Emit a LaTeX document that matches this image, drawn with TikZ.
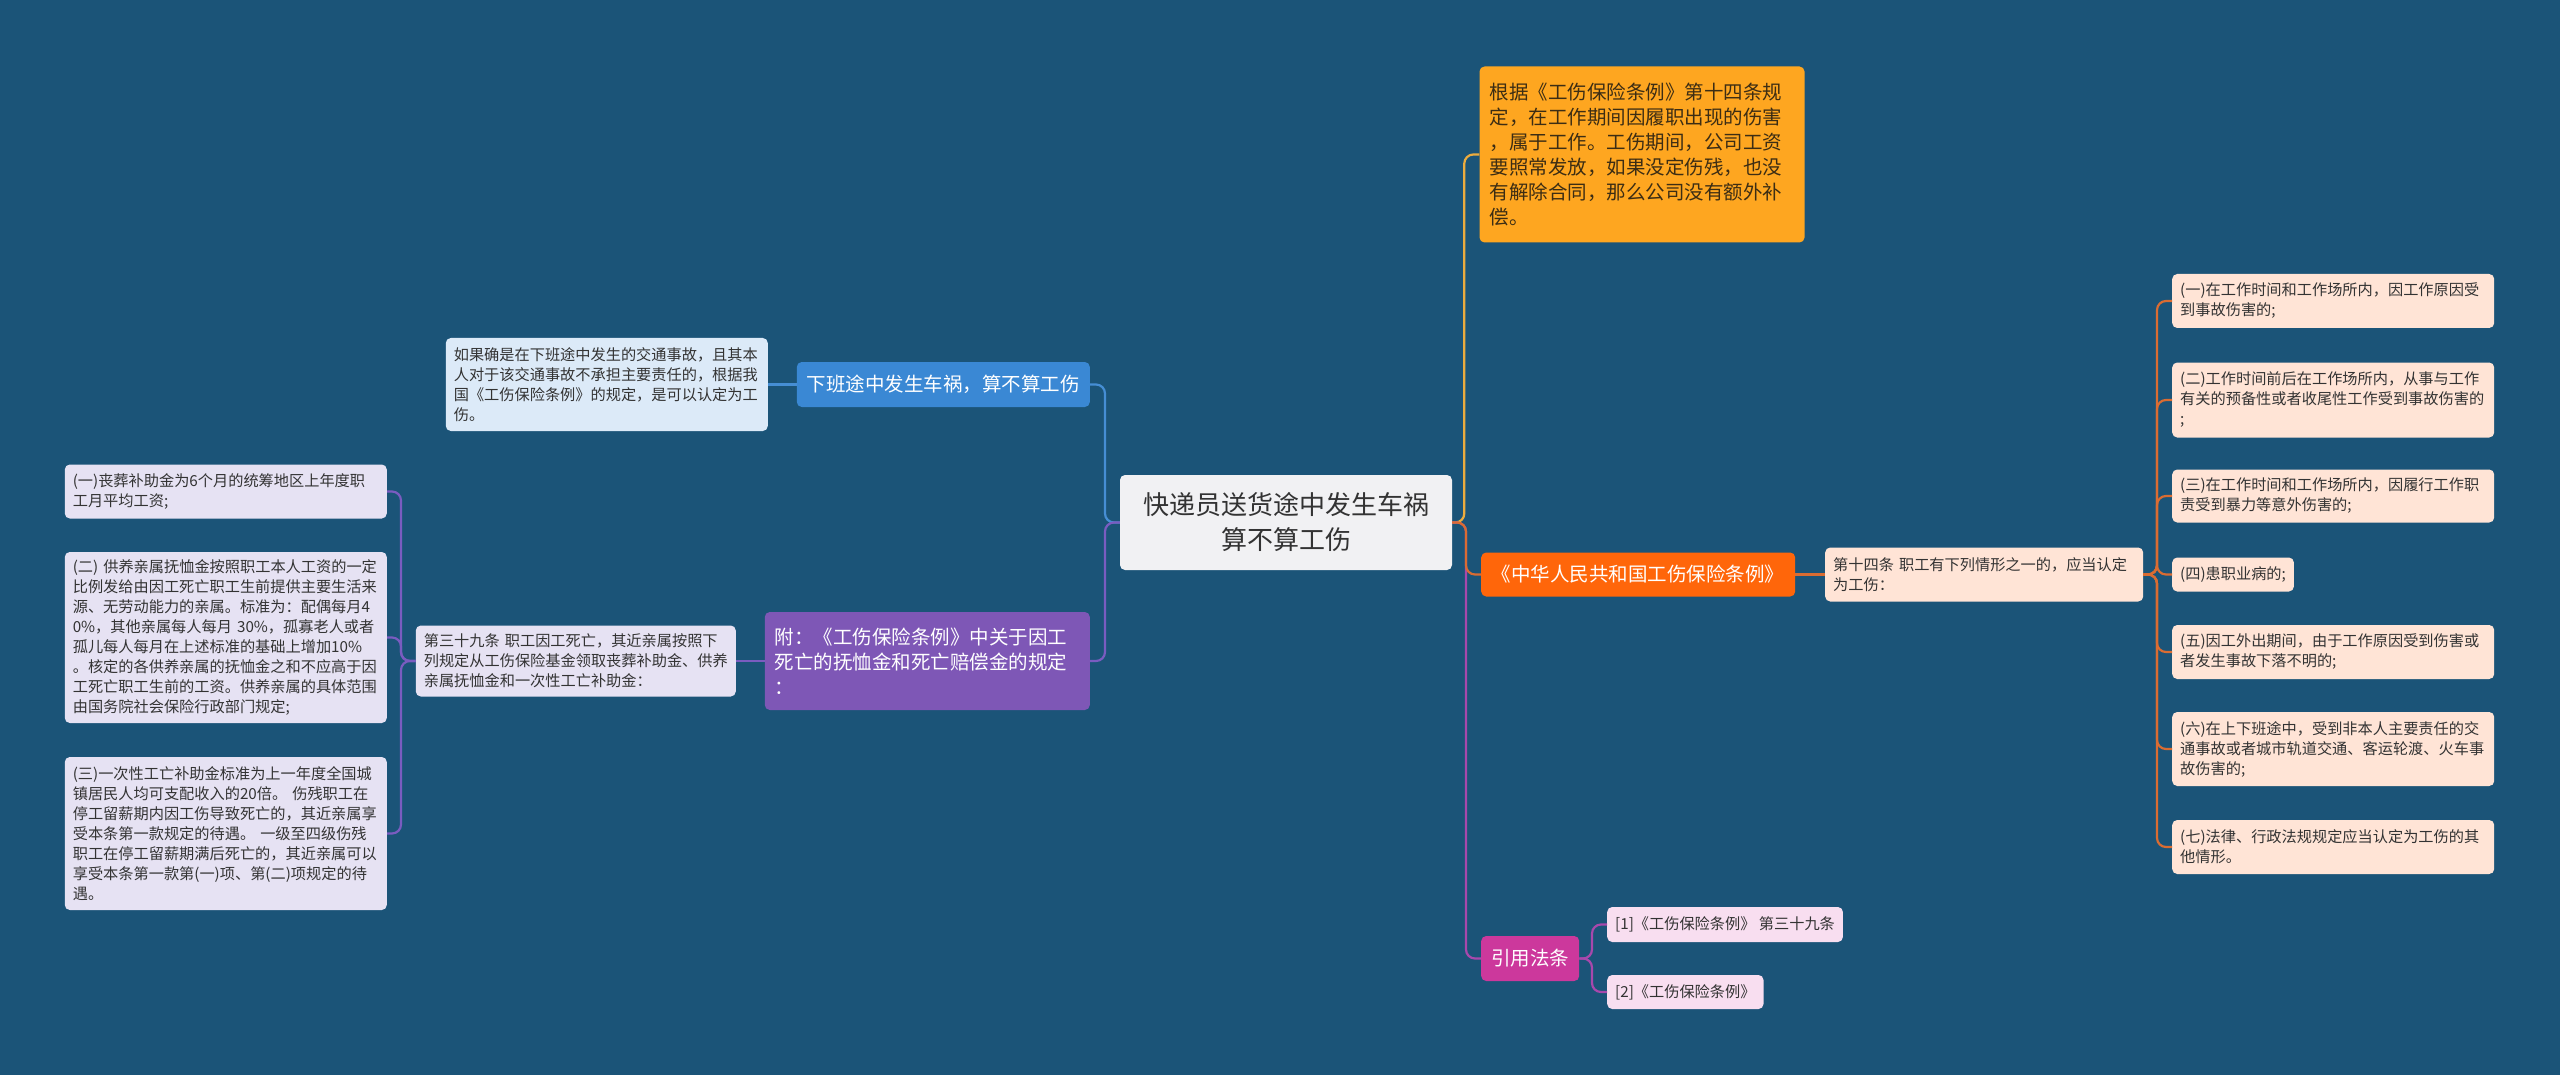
\documentclass[tikz,border=0pt]{standalone}
\usepackage{fontspec}
\setmainfont{Noto Sans CJK SC}
\definecolor{bg}{RGB}{27,84,120}
\definecolor{ink}{RGB}{51,51,51}
\definecolor{rootfill}{RGB}{241,241,243}
\definecolor{infofill}{RGB}{254,166,32}
\definecolor{infoink}{RGB}{60,45,20}
\definecolor{infoline}{RGB}{236,172,62}
\definecolor{lawfill}{RGB}{255,102,10}
\definecolor{lawline}{RGB}{218,108,50}
\definecolor{peach}{RGB}{255,228,214}
\definecolor{citefill}{RGB}{204,56,156}
\definecolor{citeline}{RGB}{168,72,172}
\definecolor{pink}{RGB}{248,222,240}
\definecolor{commutefill}{RGB}{58,136,212}
\definecolor{commuteline}{RGB}{70,142,212}
\definecolor{paleblue}{RGB}{220,234,248}
\definecolor{annexfill}{RGB}{126,87,182}
\definecolor{annexline}{RGB}{122,92,192}
\definecolor{lavender}{RGB}{230,226,243}
\begin{document}
\begin{tikzpicture}[x=1pt, y=-1pt,
  box/.style={rounded corners=5pt, text=ink, align=left},
  rootbox/.style={box, fill=rootfill, align=center, font=\fontsize{26}{35}\selectfont, minimum width=332pt, minimum height=95pt},
  topic/.style={box, font=\fontsize{19.5}{25}\selectfont, inner xsep=10pt, inner ysep=5pt},
  leaf/.style={box, font=\fontsize{15.2}{20}\selectfont, inner xsep=8pt, inner ysep=5pt},
  wide/.style={text width=306pt},
  link/.style={line width=2.2pt, rounded corners=9pt}]
  \fill[bg] (0,0) rectangle (2560,1075);
  \useasboundingbox (0,0) rectangle (2560,1075);

  \node[rootbox] (root) at (1286,522.5) {快递员送货途中发生车祸\\算不算工伤};

  \node[topic, fill=infofill, text=infoink, text width=305pt, minimum height=176pt] (info) at (1642,154.5) {根据《工伤保险条例》第十四条规\\定，在工作期间因履职出现的伤害\\，属于工作。工伤期间，公司工资\\要照常发放，如果没定伤残，也没\\有解除合同，那么公司没有额外补\\偿。};
  \node[topic, fill=lawfill, text=white, minimum width=314pt, minimum height=44pt, anchor=west] (law) at (1481,574.5) {《中华人民共和国工伤保险条例》};
  \node[leaf, fill=peach, text width=302pt, minimum height=54pt, anchor=west] (art14) at (1825,574.5) {第十四条~职工有下列情形之一的，应当认定\\为工伤：};

  \node[leaf, wide, fill=peach, minimum height=54pt, anchor=west] (r1) at (2172,301) {(一)在工作时间和工作场所内，因工作原因受\\到事故伤害的;};
  \node[leaf, wide, fill=peach, minimum height=75pt, anchor=west] (r2) at (2172,400) {(二)工作时间前后在工作场所内，从事与工作\\有关的预备性或者收尾性工作受到事故伤害的\\;};
  \node[leaf, wide, fill=peach, minimum height=53pt, anchor=west] (r3) at (2172,496) {(三)在工作时间和工作场所内，因履行工作职\\责受到暴力等意外伤害的;};
  \node[leaf, fill=peach, minimum height=34pt, anchor=west] (r4) at (2172,574.5) {(四)患职业病的;};
  \node[leaf, wide, fill=peach, minimum height=54pt, anchor=west] (r5) at (2172,652) {(五)因工外出期间，由于工作原因受到伤害或\\者发生事故下落不明的;};
  \node[leaf, wide, fill=peach, minimum height=74pt, anchor=west] (r6) at (2172,749) {(六)在上下班途中，受到非本人主要责任的交\\通事故或者城市轨道交通、客运轮渡、火车事\\故伤害的;};
  \node[leaf, wide, fill=peach, minimum height=54pt, anchor=west] (r7) at (2172,847) {(七)法律、行政法规规定应当认定为工伤的其\\他情形。};

  \node[topic, fill=citefill, text=white, minimum height=45pt, anchor=west] (cite) at (1481,958.5) {引用法条};
  \node[leaf, fill=pink, minimum height=35pt, anchor=west] (c1) at (1607,924.5) {[1]《工伤保险条例》~第三十九条};
  \node[leaf, fill=pink, minimum height=34pt, anchor=west] (c2) at (1607,992) {[2]《工伤保险条例》};

  \node[topic, fill=commutefill, text=white, minimum height=45pt, anchor=east] (commute) at (1090,384.5) {下班途中发生车祸，算不算工伤};
  \node[leaf, wide, fill=paleblue, minimum height=93pt, anchor=east] (l0) at (768,384.5) {如果确是在下班途中发生的交通事故，且其本\\人对于该交通事故不承担主要责任的，根据我\\国《工伤保险条例》的规定，是可以认定为工\\伤。};

  \node[topic, fill=annexfill, text=white, text width=305pt, minimum height=98pt, anchor=east] (annex) at (1090,661) {附：《工伤保险条例》中关于因工\\死亡的抚恤金和死亡赔偿金的规定\\：};
  \node[leaf, fill=lavender, text width=304pt, minimum height=71pt, anchor=east] (art39) at (736,661) {第三十九条~职工因工死亡，其近亲属按照下\\列规定从工伤保险基金领取丧葬补助金、供养\\亲属抚恤金和一次性工亡补助金：};

  \node[leaf, wide, fill=lavender, minimum height=54pt, anchor=east] (l1) at (387,491.5) {(一)丧葬补助金为6个月的统筹地区上年度职\\工月平均工资;};
  \node[leaf, wide, fill=lavender, minimum height=171pt, anchor=east] (l2) at (387,637.5) {(二)~供养亲属抚恤金按照职工本人工资的一定\\比例发给由因工死亡职工生前提供主要生活来\\源、无劳动能力的亲属。标准为：配偶每月4\\0\%，其他亲属每人每月~30\%，孤寡老人或者\\孤儿每人每月在上述标准的基础上增加10\%\\。核定的各供养亲属的抚恤金之和不应高于因\\工死亡职工生前的工资。供养亲属的具体范围\\由国务院社会保险行政部门规定;};
  \node[leaf, wide, fill=lavender, minimum height=153pt, anchor=east] (l3) at (387,833.5) {(三)一次性工亡补助金标准为上一年度全国城\\镇居民人均可支配收入的20倍。~伤残职工在\\停工留薪期内因工伤导致死亡的，其近亲属享\\受本条第一款规定的待遇。~一级至四级伤残\\职工在停工留薪期满后死亡的，其近亲属可以\\享受本条第一款第(一)项、第(二)项规定的待\\遇。};

  \draw[link, infoline] (root.east) -| ([xshift=-15pt]info.west) -- (info.west);
  \draw[link, citeline] (root.east) -| ([xshift=-15pt]cite.west) -- (cite.west);
  \draw[link, lawline] (root.east) -| ([xshift=-15pt]law.west) -- (law.west);
  \draw[link, lawline] (law) -- (art14);
  \foreach \n in {r1,r2,r3,r4,r5,r6,r7}
    \draw[link, lawline] (art14.east) -| ([xshift=-15pt]\n.west) -- (\n.west);
  \foreach \n in {c1,c2}
    \draw[link, citeline] (cite.east) -| ([xshift=-15pt]\n.west) -- (\n.west);

  \draw[link, commuteline] (root.west) -| ([xshift=15pt]commute.east) -- (commute.east);
  \draw[link, annexline] (root.west) -| ([xshift=15pt]annex.east) -- (annex.east);
  \draw[link, commuteline] (commute) -- (l0);
  \draw[link, annexline] (annex) -- (art39);
  \foreach \n in {l1,l2,l3}
    \draw[link, annexline] (art39.west) -| ([xshift=14pt]\n.east) -- (\n.east);
\end{tikzpicture}
\end{document}
